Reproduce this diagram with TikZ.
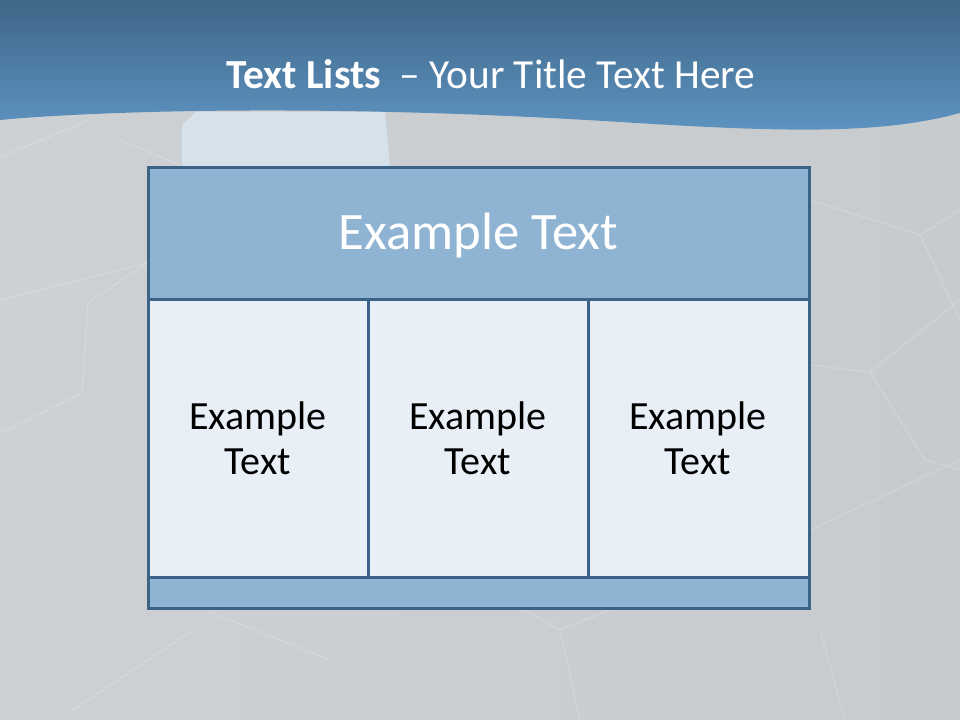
\documentclass[tikz,border=0pt]{standalone}
\usepackage{fontspec}
\setmainfont{Carlito}
\usetikzlibrary{shadings}
\definecolor{bggray}{HTML}{C8CBCE}
\definecolor{bgleft}{HTML}{CED1D4}
\definecolor{bordblue}{HTML}{3A6387}
\definecolor{headfill}{HTML}{8FB4D3}
\definecolor{colfill}{HTML}{E8EFF6}
\definecolor{bantop}{HTML}{3E6688}
\definecolor{banbot}{HTML}{5F95C2}
\definecolor{panel}{HTML}{D5E1EB}
\tikzset{
  cell/.style={draw=bordblue, line width=2.25pt},
  hexline/.style={white, opacity=0.16, line width=1pt},
  coltext/.style={align=center, font=\fontsize{30}{34}\selectfont, text=black},
}
\begin{document}
\begin{tikzpicture}[x=0.75pt,y=-0.75pt]
\useasboundingbox (0,0) rectangle (960,720);
% background
\shade[left color=bgleft, right color=bggray] (0,0) rectangle (960,720);
% faint hexagon texture
\draw[hexline] (0,157) -- (90,120);
\draw[hexline] (0,300) -- (147,263);
\draw[hexline] (147,263) -- (88,303) -- (82,393) -- (0,433);
\draw[hexline] (120,140) -- (180,165);
\draw[hexline] (190,632) -- (70,712);
\draw[hexline] (210,612) -- (330,660);
\draw[hexline] (520,608) -- (560,630) -- (580,720);
\draw[hexline] (560,630) -- (610,610);
\draw[hexline] (810,200) -- (920,235) -- (960,210);
\draw[hexline] (920,235) -- (960,320);
\draw[hexline] (810,365) -- (870,372) -- (960,300);
\draw[hexline] (870,372) -- (925,460) -- (960,470);
\draw[hexline] (810,530) -- (960,460);
\draw[hexline] (820,630) -- (845,720);
% light panel behind header
\fill[panel] (182,125) -- (196,112) -- (385,112) -- (390,168) -- (182,168) -- cycle;
% banner
\shade[top color=bantop, bottom color=banbot]
  (0,0) -- (960,0) -- (960,113)
  .. controls (880,135) and (780,132) .. (620,122)
  .. controls (460,112) and (300,108) .. (150,112)
  .. controls (80,114) and (30,117) .. (0,120) -- cycle;
% title
\node (title) [text=white, font=\fontsize{31}{36}\selectfont] at (491,74)
  {\textbf{Text Lists}\ \ – Your Title Text Here};
% table
\draw[cell, fill=headfill] (148,168) rectangle (809,300);
\node (head) [text=white, font=\fontsize{39.5}{44}\selectfont] at (478.5,235.5) {Example Text};
\draw[cell, fill=colfill] (148,300) rectangle (368,577);
\draw[cell, fill=colfill] (368,300) rectangle (588,577);
\draw[cell, fill=colfill] (588,300) rectangle (809,577);
\draw[cell, fill=headfill] (148,577) rectangle (809,608);
\node (c1) [coltext] at (258,438) {Example\\Text};
\node (c2) [coltext] at (478,438) {Example\\Text};
\node (c3) [coltext] at (698,438) {Example\\Text};
\end{tikzpicture}
\end{document}
